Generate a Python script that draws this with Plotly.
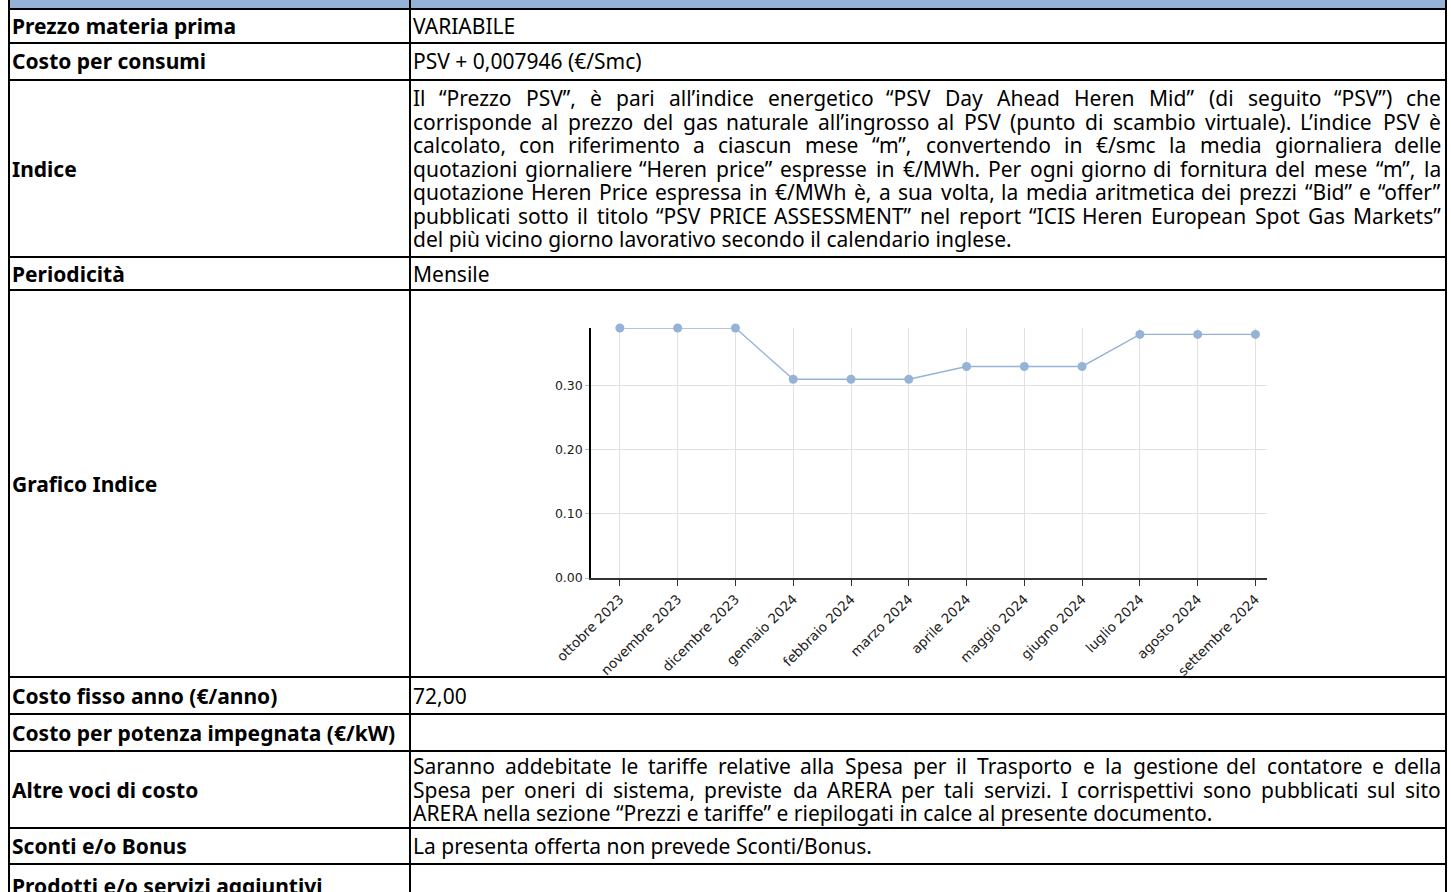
import plotly.graph_objects as go

# ---------------- data ----------------
months = ["ottobre 2023", "novembre 2023", "dicembre 2023", "gennaio 2024",
          "febbraio 2024", "marzo 2024", "aprile 2024", "maggio 2024",
          "giugno 2024", "luglio 2024", "agosto 2024", "settembre 2024"]
psv_index = [0.39, 0.39, 0.39, 0.31, 0.31, 0.31, 0.33, 0.33, 0.33, 0.38, 0.38, 0.38]
y_ticks = [0.0, 0.1, 0.2, 0.3]

row_labels = ["Prezzo materia prima", "Costo per consumi", "Indice", "Periodicità",
              "Grafico Indice", "Costo fisso anno (€/anno)",
              "Costo per potenza impegnata (€/kW)", "Altre voci di costo",
              "Sconti e/o Bonus", "Prodotti e/o servizi aggiuntivi"]

indice_lines = [
    "Il “Prezzo PSV”, è pari all’indice energetico “PSV Day Ahead Heren Mid” (di seguito “PSV”) che",
    "corrisponde al prezzo del gas naturale all’ingrosso al PSV (punto di scambio virtuale). L’indice PSV è",
    "calcolato, con riferimento a ciascun mese “m”, convertendo in €/smc la media giornaliera delle",
    "quotazioni giornaliere “Heren price” espresse in €/MWh. Per ogni giorno di fornitura del mese “m”, la",
    "quotazione Heren Price espressa in €/MWh è, a sua volta, la media aritmetica dei prezzi “Bid” e “offer”",
    "pubblicati sotto il titolo “PSV PRICE ASSESSMENT” nel report “ICIS Heren European Spot Gas Markets”",
    "del più vicino giorno lavorativo secondo il calendario inglese.",
]
altre_lines = [
    "Saranno addebitate le tariffe relative alla Spesa per il Trasporto e la gestione del contatore e della",
    "Spesa per oneri di sistema, previste da ARERA per tali servizi. I corrispettivi sono pubblicati sul sito",
    "ARERA nella sezione “Prezzi e tariffe” e riepilogati in calce al presente documento.",
]
row_values = ["VARIABILE", "PSV + 0,007946 (€/Smc)", indice_lines, "Mensile", None,
              "72,00", "", altre_lines, "La presenta offerta non prevede Sconti/Bonus.", ""]

# ---------------- layout constants (pixels) ----------------
W, H = 1451, 892
X_LEFT, X_DIV, X_RIGHT = 9, 410, 1446
ROW_EDGES = [9, 43, 80, 257, 290, 677, 714, 751, 828, 864, 908]
FONT = "Noto Sans"
FS = 21
LINE_H = 23.5
PAD_L = 3
PAD_R = 5

# approximate glyph advance widths (em) for justification
CW = {" ": 0.26, "a": 0.556, "b": 0.613, "c": 0.48, "d": 0.613, "e": 0.561, "f": 0.336,
      "g": 0.546, "h": 0.614, "i": 0.253, "j": 0.253, "k": 0.522, "l": 0.253, "m": 0.93,
      "n": 0.614, "o": 0.602, "p": 0.613, "q": 0.613, "r": 0.408, "s": 0.477, "t": 0.353,
      "u": 0.614, "v": 0.501, "w": 0.774, "x": 0.52, "y": 0.501, "z": 0.463,
      "A": 0.633, "B": 0.647, "C": 0.631, "D": 0.729, "E": 0.556, "F": 0.516, "G": 0.728,
      "H": 0.738, "I": 0.279, "L": 0.519, "M": 0.907, "N": 0.764, "O": 0.78, "P": 0.602,
      "R": 0.618, "S": 0.549, "T": 0.553, "V": 0.6, "W": 0.93, "€": 0.572, "/": 0.371,
      ",": 0.246, ".": 0.267, "“": 0.359, "”": 0.359, "’": 0.175, "(": 0.297, ")": 0.297,
      "è": 0.561, "ù": 0.614, "à": 0.556}


def tw(s):
    return sum(CW.get(c, 0.56) for c in s) * FS


def px(x):
    return x / W


def py(y):
    return 1 - y / H


annotations = []
shapes = []


def add_text(text, x, y, anchor="left", bold=False, size=FS):
    annotations.append(dict(
        text=f"<b>{text}</b>" if bold else text, x=px(x), y=py(y), xref="paper", yref="paper",
        xanchor=anchor, yanchor="middle", showarrow=False, borderpad=0, borderwidth=0,
        font=dict(family=FONT, size=size, color="#000000")))


def add_justified(line, y, x0, x1, justify=True):
    words = line.split(" ")
    if not justify or len(words) == 1:
        add_text(line, x0, y)
        return
    widths = [tw(w) for w in words]
    gap = (x1 - x0 - sum(widths)) / (len(words) - 1)
    x = x0
    for i, (w, wd) in enumerate(zip(words, widths)):
        if i == len(words) - 1:
            add_text(w, x1, y, anchor="right")
        else:
            add_text(w, x, y)
        x += wd + gap


# header band
shapes.append(dict(type="rect", xref="paper", yref="paper", x0=px(X_LEFT), x1=px(X_RIGHT),
                   y0=py(-5), y1=py(ROW_EDGES[0]), fillcolor="#95b3d7", line=dict(width=0),
                   layer="below"))

# rows
for i, label in enumerate(row_labels):
    top, bot = ROW_EDGES[i], ROW_EDGES[i + 1]
    cy = (top + bot) / 2
    add_text(label, X_LEFT + PAD_L, cy, bold=True)
    val = row_values[i]
    if isinstance(val, list):
        n = len(val)
        for j, line in enumerate(val):
            yy = cy + (j - (n - 1) / 2) * LINE_H
            add_justified(line, yy, X_DIV + PAD_L, X_RIGHT - PAD_R, justify=(j < n - 1))
    elif val:
        add_text(val, X_DIV + PAD_L, cy)

# grid lines of table
for y in ROW_EDGES[:-1]:
    shapes.append(dict(type="line", xref="paper", yref="paper", x0=px(X_LEFT), x1=px(X_RIGHT),
                       y0=py(y), y1=py(y), line=dict(color="#000000", width=2)))
for x in (X_LEFT, X_DIV, X_RIGHT):
    shapes.append(dict(type="line", xref="paper", yref="paper", x0=px(x), x1=px(x),
                       y0=py(-5), y1=py(H + 20), line=dict(color="#000000", width=2)))

# ---------------- chart ----------------
CH_X0, CH_X1 = 591, 1267
CH_Y0, CH_Y1 = 328, 578

fig = go.Figure()
fig.add_trace(go.Scatter(
    x=months, y=psv_index, mode="lines+markers", cliponaxis=False,
    line=dict(color="#95b3d7", width=1.4),
    marker=dict(color="#95b3d7", size=9),
    hoverinfo="x+y"))

fig.update_layout(
    width=W, height=H, autosize=False,
    margin=dict(l=0, r=0, t=0, b=0, pad=0, autoexpand=False),
    paper_bgcolor="white", plot_bgcolor="white",
    showlegend=False,
    shapes=shapes, annotations=annotations,
    xaxis=dict(domain=[px(CH_X0), px(CH_X1)], type="category", automargin=False,
               range=[-0.5, 11.2], showline=True, linecolor="#333333", linewidth=2,
               ticks="outside", ticklen=6, tickcolor="#333333", tickangle=-45,
               showgrid=True, gridcolor="#e2e2e2", gridwidth=1,
               tickfont=dict(family="DejaVu Sans", size=13.5, color="#222222"),
               fixedrange=True),
    yaxis=dict(domain=[py(CH_Y1), py(CH_Y0)], range=[0, 0.39], automargin=False,
               tickvals=y_ticks, tickformat=".2f",
               showline=True, linecolor="#000000", linewidth=1.5,
               ticks="outside", ticklen=4, tickcolor="#bbbbbb",
               showgrid=True, gridcolor="#e2e2e2", gridwidth=1, zeroline=False,
               tickfont=dict(family="DejaVu Sans", size=12.5, color="#222222"),
               fixedrange=True),
)

fig.write_html("out.html", config={"displayModeBar": False},
               post_script="document.body.style.margin='0';document.body.style.overflow='hidden';")
